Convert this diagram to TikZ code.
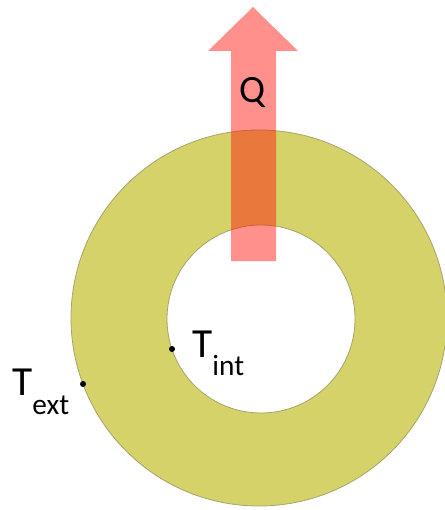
\documentclass[tikz,border=0pt]{standalone}
\usepackage{fontspec}
\setmainfont{Carlito}
\usepackage{xcolor}
\usepackage{tikz}

\definecolor{ringfill}{RGB}{212,210,104}
\definecolor{ringline}{RGB}{165,165,110}
\definecolor{flux}{RGB}{255,20,10}

\begin{document}
\begin{tikzpicture}[
  x=0.75pt, y=-0.75pt,
  ring/.style={fill=ringfill, draw=ringline, line width=0.6pt, even odd rule},
  heat/.style={fill=flux, fill opacity=0.47, draw=none},
  temp/.style={inner sep=0pt, anchor=base west, font=\fontsize{31}{31}\selectfont},
  probe/.style={circle, fill=black, inner sep=0pt, minimum size=4.5pt}
]
\useasboundingbox (0,0) rectangle (444,510);
% wall (annulus)
\path[ring] (259,318) circle[radius=188] (261,319) circle[radius=94];
% heat flow arrow
\path[heat] (231,261) -- (231,51) -- (208,51) -- (253,7) -- (298,51) -- (276,51) -- (276,261) -- cycle;
\node[inner sep=0pt, anchor=base, font=\fontsize{29}{29}\selectfont] (q) at (253,103) {Q};
% temperatures
\node[probe] (pext) at (83,384) {};
\node[probe] (pint) at (172,349) {};
\node[temp] (text) at (12,395) {T\raisebox{-0.48em}{\fontsize{22}{22}\selectfont ext}};
\node[temp] (tint) at (192,357) {T\raisebox{-0.45em}{\fontsize{22}{22}\selectfont int}};
\end{tikzpicture}
\end{document}
